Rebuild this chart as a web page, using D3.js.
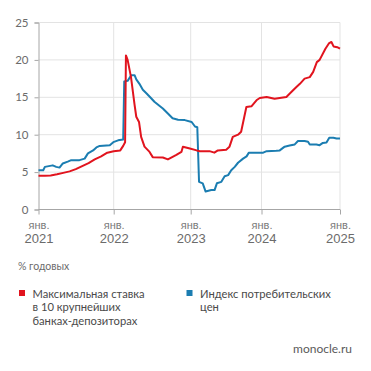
<!DOCTYPE html>
<html>
<head>
<meta charset="utf-8">
<script src="https://cdn.jsdelivr.net/npm/d3@7"></script>
<style>
  body { margin: 0; background: #fff; }
  svg { display: block; font-family: Lato, "Open Sans", sans-serif; }
</style>
</head>
<body>
<svg width="371" height="371"></svg>
<script>
// Max deposit rate in top-10 banks, % (red)
const depositDates = ["2021-01-01","2021-02-01","2021-03-01","2021-04-01","2021-05-01","2021-06-01","2021-07-01","2021-08-01","2021-09-01","2021-10-01","2021-11-01","2021-12-01","2022-01-01","2022-02-01","2022-02-15","2022-02-24","2022-02-28","2022-03-08","2022-03-24","2022-04-10","2022-04-18","2022-05-01","2022-05-11","2022-05-27","2022-06-20","2022-07-05","2022-08-22","2022-09-15","2022-10-25","2022-11-18","2022-11-25","2022-12-28","2023-02-01","2023-02-17","2023-04-08","2023-05-03","2023-05-21","2023-07-03","2023-07-20","2023-08-06","2023-09-02","2023-09-18","2023-10-15","2023-11-10","2023-12-06","2023-12-23","2024-01-25","2024-03-02","2024-04-26","2024-05-19","2024-06-13","2024-06-28","2024-07-20","2024-08-13","2024-08-29","2024-09-15","2024-09-28","2024-10-25","2024-11-10","2024-11-22","2024-12-02","2024-12-19","2025-01-01"];
const depositValues = [4.5,4.5,4.55,4.7,4.9,5.1,5.4,5.8,6.2,6.7,7.1,7.6,7.8,7.9,8.5,9.0,20.6,20.0,17.7,14.0,12.4,11.7,9.7,8.4,7.7,7.0,6.95,6.7,7.3,7.7,8.4,8.15,7.9,7.8,7.8,7.6,7.9,8.0,8.4,9.7,10.0,10.4,13.7,13.8,14.6,14.9,15.05,14.8,15.05,15.7,16.4,16.8,17.5,17.7,18.4,19.7,20.0,21.5,22.2,22.4,21.8,21.7,21.5];

// Consumer price index, % y/y (blue)
const cpiDates = ["2021-01-01","2021-01-24","2021-02-01","2021-03-11","2021-03-28","2021-04-13","2021-04-29","2021-05-23","2021-06-09","2021-07-19","2021-08-13","2021-08-29","2021-09-23","2021-10-09","2021-10-25","2021-12-13","2021-12-30","2022-01-22","2022-02-15","2022-02-20","2022-03-08","2022-03-25","2022-04-10","2022-04-18","2022-05-03","2022-05-19","2022-06-06","2022-06-23","2022-07-13","2022-08-04","2022-08-22","2022-09-16","2022-10-07","2022-11-02","2022-12-04","2023-01-06","2023-01-23","2023-02-04","2023-02-13","2023-03-04","2023-03-19","2023-04-17","2023-05-04","2023-05-16","2023-06-08","2023-06-25","2023-07-13","2023-07-29","2023-08-16","2023-09-02","2023-09-28","2023-10-16","2023-10-28","2023-12-07","2024-01-09","2024-01-25","2024-03-10","2024-03-26","2024-04-18","2024-05-11","2024-06-04","2024-06-19","2024-07-20","2024-08-05","2024-08-13","2024-09-13","2024-09-28","2024-10-13","2024-10-30","2024-11-12","2024-12-01","2024-12-16","2025-01-01"];
const cpiValues = [5.25,5.25,5.7,5.9,5.7,5.6,6.15,6.4,6.6,6.6,6.8,7.5,7.9,8.3,8.5,8.6,9.0,9.25,9.35,17.1,17.2,17.95,17.95,17.4,16.8,16.0,15.5,15.0,14.4,13.9,13.5,12.8,12.2,12.0,11.95,11.7,11.1,11.0,3.7,3.5,2.4,2.6,2.6,3.5,3.7,4.45,4.6,5.25,5.7,6.25,6.8,7.1,7.6,7.6,7.6,7.8,7.85,7.9,8.4,8.55,8.7,9.15,9.15,9.05,8.7,8.7,8.6,8.9,8.95,9.6,9.6,9.5,9.5];

const yTicks = [0, 5, 10, 15, 20, 25];
const tickYears = [2021, 2022, 2023, 2024, 2025];
const monthLabel = "янв.";
const unitLabel = "% годовых";
const legendItems = [
  { lines: ["Максимальная ставка", "в 10 крупнейших", "банках-депозиторах"], color: "#e1141e" },
  { lines: ["Индекс потребительских", "цен"], color: "#1b7db1" }
];
const sourceLabel = "monocle.ru";

const svg = d3.select("svg");
const parse = d3.timeParse("%Y-%m-%d");

// x positions of the yearly ticks in the original are not evenly spaced
const x = d3.scaleTime()
  .domain(tickYears.map(y => new Date(y, 0, 1)))
  .range([38.5, 113.7, 190.7, 261.5, 340]);

const y = d3.scaleLinear()
  .domain([0, 25])
  .range([209.5, 22.5]);

const plotLeft = 38.5, plotRight = 340;

// horizontal grid
svg.append("g")
  .selectAll("line")
  .data(yTicks.filter(d => d > 0))
  .join("line")
  .attr("x1", plotLeft).attr("x2", plotRight)
  .attr("y1", d => y(d)).attr("y2", d => y(d))
  .attr("stroke", "#e3e3e3").attr("stroke-width", 1);

// vertical grid
svg.append("g")
  .selectAll("line")
  .data(tickYears.slice(1))
  .join("line")
  .attr("x1", d => x(new Date(d, 0, 1))).attr("x2", d => x(new Date(d, 0, 1)))
  .attr("y1", y(25)).attr("y2", y(0))
  .attr("stroke", "#e3e3e3").attr("stroke-width", 1);

// y axis
const yAxis = svg.append("g")
  .attr("transform", `translate(${plotLeft},0)`)
  .call(d3.axisLeft(y).tickValues(yTicks).tickSize(4).tickPadding(6));
yAxis.select(".domain").attr("stroke", "#a6a6a6");
yAxis.selectAll(".tick line").attr("stroke", "#a6a6a6");
yAxis.selectAll(".tick text")
  .attr("fill", "#6b6b6b")
  .style("font-size", "11.5px")
  .style("font-family", "Lato, sans-serif");

// x axis
const xAxis = svg.append("g")
  .attr("transform", `translate(0,${y(0)})`)
  .call(d3.axisBottom(x).tickValues(tickYears.map(d => new Date(d, 0, 1))).tickSize(5).tickFormat(""));
xAxis.select(".domain").attr("stroke", "#a6a6a6").attr("d", `M${plotLeft},0H${plotRight}`);
xAxis.selectAll(".tick line").attr("stroke", "#a6a6a6");
xAxis.selectAll(".tick").each(function(d) {
  const g = d3.select(this);
  g.append("text")
    .attr("y", 19)
    .attr("text-anchor", "middle")
    .attr("fill", "#7a7a7a")
    .style("font-size", "11px")
    .text(monthLabel);
  g.append("text")
    .attr("y", 33.5)
    .attr("text-anchor", "middle")
    .attr("fill", "#6b6b6b")
    .style("font-size", "13px")
    .text(d.getFullYear());
});

const line = d3.line()
  .x(d => x(d.date))
  .y(d => y(d.value));

const cpi = cpiDates.map((d, i) => ({ date: parse(d), value: cpiValues[i] }));
const deposit = depositDates.map((d, i) => ({ date: parse(d), value: depositValues[i] }));

svg.append("path")
  .datum(cpi)
  .attr("fill", "none")
  .attr("stroke", legendItems[1].color)
  .attr("stroke-width", 2)
  .attr("stroke-linejoin", "round")
  .attr("d", line);

svg.append("path")
  .datum(deposit)
  .attr("fill", "none")
  .attr("stroke", legendItems[0].color)
  .attr("stroke-width", 2)
  .attr("stroke-linejoin", "round")
  .attr("d", line);

// unit label
svg.append("text")
  .attr("x", 18)
  .attr("y", 269.5)
  .attr("fill", "#6b6b6b")
  .style("font-size", "10.5px")
  .text(unitLabel);

// legend
const legend = svg.append("g")
  .selectAll("g")
  .data(legendItems)
  .join("g")
  .attr("transform", (d, i) => `translate(${i === 0 ? 19 : 186.5},290)`);

legend.append("rect")
  .attr("width", 6)
  .attr("height", 6)
  .attr("fill", d => d.color);

legend.append("text")
  .attr("fill", "#4a4a4a")
  .style("font-size", "11.2px")
  .selectAll("tspan")
  .data(d => d.lines)
  .join("tspan")
  .attr("x", 13.5)
  .attr("y", (d, i) => 7.5 + i * 13.8)
  .text(d => d);

// source
svg.append("text")
  .attr("x", 352)
  .attr("y", 353)
  .attr("text-anchor", "end")
  .attr("fill", "#5a5a5a")
  .style("font-size", "12px")
  .text(sourceLabel);
</script>
</body>
</html>
